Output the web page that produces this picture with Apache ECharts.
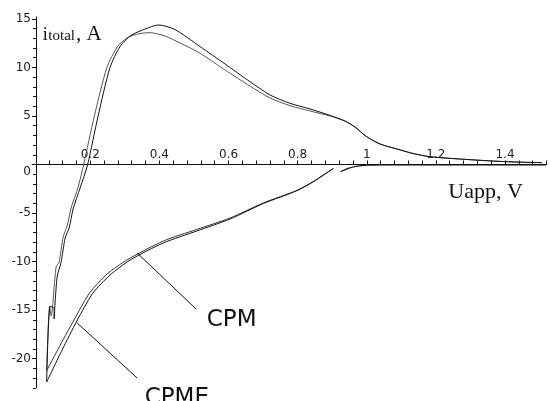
<!DOCTYPE html>
<html><head><meta charset="utf-8">
<script src="https://cdn.jsdelivr.net/npm/echarts@6/dist/echarts.min.js"></script>
<style>html,body{margin:0;padding:0;background:#fff}#c{width:550px;height:401px}</style>
</head><body><div id="c"></div>
<script>
// ---- data ----
const blackUpperX = [0.0738,0.0839,0.0955,0.0955,0.1041,0.1157,0.1273,0.1388,0.1504,0.1707,0.1924,0.222,0.257,0.287,0.318,0.3587,0.397,0.445,0.518,0.59,0.662,0.72,0.778,0.836,0.894,0.937,0.966,1.0,1.039,1.087,1.134,1.183,1.279,1.377,1.443,1.507];
const blackUpperY = [-22.4,-14.62,-14.78,-15.91,-11.59,-10.04,-7.57,-6.54,-4.58,-2.42,0,4.89,9.97,12.2,13.3,13.95,14.37,13.9,12.13,10.35,8.53,7.16,6.3,5.72,5.05,4.48,3.86,2.86,2.1,1.6,1.13,0.8,0.54,0.33,0.24,0.19];
const grayUpperX = [0.0738,0.0824,0.0868,0.1012,0.1099,0.1215,0.1331,0.1446,0.1649,0.1808,0.2112,0.2479,0.28,0.31,0.344,0.373,0.4166,0.46,0.518,0.59,0.662,0.72,0.778,0.836,0.894,0.937,0.966,1.0,1.039,1.087,1.134,1.183,1.279,1.377,1.443,1.507];
const grayUpperY = [-21.24,-14.62,-15.6,-10.55,-10.04,-7.47,-6.33,-4.48,-2.32,0,4.89,9.97,12.2,13.1,13.49,13.57,13.23,12.51,11.45,9.73,8.08,6.85,6.06,5.51,4.99,4.46,3.84,2.85,2.1,1.6,1.13,0.8,0.54,0.33,0.24,0.19];
const blackLowerX = [0.0738,0.1186,0.1611,0.2074,0.2575,0.3153,0.4116,0.5082,0.6046,0.7009,0.7975,0.8455,0.9034];
const blackLowerY = [-22.4,-19.1,-16.12,-13.26,-11.38,-9.84,-8.08,-6.85,-5.61,-4.02,-2.7,-1.77,-0.41];
const grayLowerX = [0.0738,0.121,0.1513,0.1976,0.2488,0.3058,0.4116,0.5082,0.6046,0.7009,0.7975,0.8455,0.9034];
const grayLowerY = [-21.24,-18.07,-16.12,-13.26,-11.28,-9.84,-7.88,-6.69,-5.51,-3.96,-2.68,-1.75,-0.39];
const tailX = [0.9242,0.946,0.969,1.0,1.053,1.2,1.35,1.519];
const tailY = [-0.75,-0.41,-0.19,-0.07,-0.04,-0.03,-0.03,-0.03];
const xTickLabels = [0.2,0.4,0.6,0.8,1,1.2,1.4];
const yTickLabels = [-20,-15,-10,-5,0,5,10,15];
const cpmLeader = [[0.3356,-9.11],[0.506,-14.88]];
const cpmeLeader = [[0.162,-16.32],[0.3356,-21.99]];
const cpmLabelAt = [0.609,-16.07];
const cpmeLabelAt = [0.4504,-24.1];

function zip(xs, ys){ return xs.map((x,i)=>[x, ys[i]]); }
const xAllTicks = []; for (let k=2;k<=38;k++) xAllTicks.push(Math.round(k*4)/100);
const yMinor = []; for (let k=-23;k<=15;k++) yMinor.push(k);

const chart = echarts.init(document.getElementById('c'), null, {renderer:'canvas'});
const tickFont = {fontFamily:'DejaVu Sans', fontSize:12, color:'#222'};
const lineBase = {type:'line', showSymbol:false, symbol:'none', smooth:0.25, animation:false, xAxisIndex:0, yAxisIndex:0};
chart.setOption({
  animation:false,
  grid:{left:36, right:3.5, top:16.9, bottom:13.2, containLabel:false, outerBoundsMode:'none'},
  xAxis:[
    {type:'value', min:0.043, max:1.52, position:'bottom',
     axisLine:{show:true, onZero:true, lineStyle:{color:'#111', width:1}},
     axisTick:{show:true, inside:true, length:4, customValues:xAllTicks, lineStyle:{color:'#111'}},
     axisLabel:{show:false},
     splitLine:{show:false}}
  ],
  yAxis:[
    {type:'value', min:-23, max:15.2, position:'left',
     axisLine:{show:true, onZero:false, lineStyle:{color:'#111', width:1}},
     axisTick:{show:true, inside:false, length:4, customValues:yTickLabels, lineStyle:{color:'#111'}},
     axisLabel:{show:true, margin:5, customValues:yTickLabels, ...tickFont,
       formatter:v=> v===0 ? '{z|0}' : String(v),
       rich:{z:{padding:[14,0,0,0], fontFamily:'DejaVu Sans', fontSize:12, color:'#222'}}},
     splitLine:{show:false}},
    {type:'value', min:-23, max:15.2, position:'left',
     axisLine:{show:false, onZero:false},
     axisTick:{show:true, inside:false, length:3, customValues:yMinor, lineStyle:{color:'#111'}},
     axisLabel:{show:false}, splitLine:{show:false}}
  ],
  series:[
    {...lineBase, data:zip(grayUpperX, grayUpperY), lineStyle:{color:'#555', width:1}},
    {...lineBase, data:zip(blackUpperX, blackUpperY), lineStyle:{color:'#111', width:1}},
    {...lineBase, data:zip(grayLowerX, grayLowerY), lineStyle:{color:'#333', width:1}},
    {...lineBase, data:zip(blackLowerX, blackLowerY), lineStyle:{color:'#111', width:1},
     markLine:{silent:true, symbol:['none','none'], animation:false, label:{show:false},
       lineStyle:{color:'#111', width:1, type:'solid'},
       data:[[{coord:cpmLeader[0]},{coord:cpmLeader[1]}],[{coord:cpmeLeader[0]},{coord:cpmeLeader[1]}]]}},
    {...lineBase, data:zip(tailX, tailY), lineStyle:{color:'#111', width:1.3}}
  ]
});
const p1 = chart.convertToPixel({gridIndex:0}, cpmLabelAt);
const p2 = chart.convertToPixel({gridIndex:0}, cpmeLabelAt);
const annFont = {fontFamily:'DejaVu Sans', fontSize:23, fill:'#111', align:'center', verticalAlign:'middle'};
const gfx = [
  {type:'text', x:p1[0], y:p1[1], style:{text:'CPM', ...annFont}},
  {type:'text', x:p2[0], y:p2[1], style:{text:'CPME', ...annFont}},
  {type:'text', x:42.7, y:34.8, style:{text:'i', fontFamily:'Liberation Serif', fontSize:18, fill:'#111', verticalAlign:'middle'}},
  {type:'text', x:48.3, y:35.7, style:{text:'total', fontFamily:'Liberation Serif', fontSize:15, fill:'#111', verticalAlign:'middle'}},
  {type:'text', x:76, y:34, style:{text:', A', fontFamily:'Liberation Serif', fontSize:21, fill:'#111', verticalAlign:'middle'}},
  {type:'text', x:448.3, y:192.3, style:{text:'Uapp, V', fontFamily:'Liberation Serif', fontSize:22, fill:'#111', verticalAlign:'middle'}}
];
xTickLabels.forEach(v => {
  const p = chart.convertToPixel({gridIndex:0}, [v, 0]);
  gfx.push({type:'text', x:p[0], y:p[1]-10, style:{text:String(v), fontFamily:'DejaVu Sans', fontSize:12, fill:'#222', align:'center', verticalAlign:'middle'}});
});
chart.setOption({graphic:gfx});
</script>
</body></html>
